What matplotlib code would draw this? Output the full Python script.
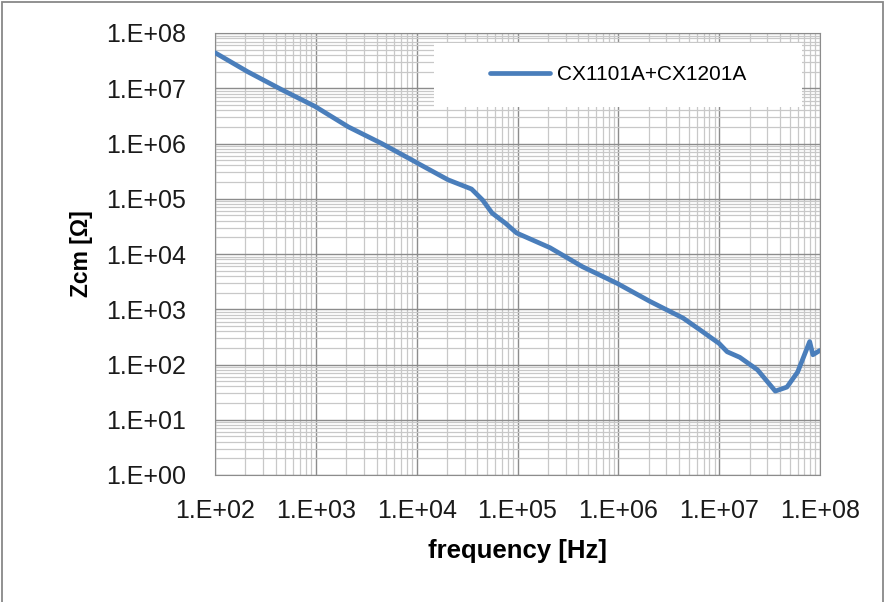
#!/usr/bin/env python3
"""
Common-mode impedance vs frequency (log-log), Excel style chart
"""

import numpy as np
import matplotlib
matplotlib.use("Agg")
import matplotlib.pyplot as plt
from matplotlib.ticker import LogLocator, FuncFormatter, NullFormatter
from matplotlib.patches import Rectangle

# Data
freq_hz = [1.0e2, 2.1e2, 4.6e2, 9.8e2, 2.1e3, 4.5e3, 9.6e3, 1.07e4, 2.05e4, 3.5e4,
           4.5e4, 5.6e4, 7.6e4, 9.8e4, 2.1e5, 4.4e5, 9.7e5, 2.07e6, 4.4e6, 6.5e6,
           1.0e7, 1.2e7, 1.6e7, 2.4e7, 3.6e7, 4.7e7, 6.0e7, 7.9e7, 8.5e7, 1.0e8]
zcm_ohm = [4.4e7, 2.0e7, 9.4e6, 4.7e6, 2.0e6, 1.0e6, 4.7e5, 4.2e5, 2.2e5, 1.5e5,
           9.5e4, 5.5e4, 3.6e4, 2.4e4, 1.3e4, 5.9e3, 2.95e3, 1.38e3, 6.9e2, 4.2e2,
           2.4e2, 1.7e2, 1.35e2, 8.0e1, 3.3e1, 3.9e1, 7.3e1, 2.6e2, 1.5e2, 1.8e2]
series_name = "CX1101A+CX1201A"
x_label = "frequency [Hz]"
y_label = "Zcm [\u03a9]"

plt.rcParams['font.family'] = ['Liberation Sans', 'DejaVu Sans']

W, H = 885, 602
fig = plt.figure(figsize=(W / 100, H / 100), dpi=100)
ax = fig.add_axes([215 / W, 1 - 475 / H, (820 - 215) / W, (475 - 33) / H])

# outer chart border (bottom edge is cut off in the reference)
fig.patches.append(Rectangle((1.5 / W, -0.05), 1 - 3.5 / W, 1.05 - 2 / H,
                             transform=fig.transFigure, fill=False,
                             edgecolor='#888888', linewidth=1.3))

ax.plot(freq_hz, zcm_ohm, color='#4A7EBB', linewidth=3.4, solid_capstyle='round',
        solid_joinstyle='round', label=series_name, zorder=3)

ax.set_xscale('log')
ax.set_yscale('log')
ax.set_xlim(1e2, 1e8)
ax.set_ylim(1e0, 1e8)

ax.xaxis.set_major_locator(LogLocator(base=10, numticks=20))
ax.yaxis.set_major_locator(LogLocator(base=10, numticks=20))
ax.xaxis.set_minor_locator(LogLocator(base=10, subs=np.arange(2, 10), numticks=20))
ax.yaxis.set_minor_locator(LogLocator(base=10, subs=np.arange(2, 10), numticks=20))
fmt = FuncFormatter(lambda v, p: "1.E+%02d" % int(round(np.log10(v))))
ax.xaxis.set_major_formatter(fmt)
ax.yaxis.set_major_formatter(fmt)
ax.xaxis.set_minor_formatter(NullFormatter())
ax.yaxis.set_minor_formatter(NullFormatter())

ax.grid(which='major', color='#8c8c8c', linewidth=1.0)
ax.grid(which='minor', color='#c8c8c8', linewidth=0.9)
ax.set_axisbelow(True)
ax.tick_params(which='both', length=0, labelsize=18, colors='#1a1a1a')
ax.tick_params(axis='x', pad=17)
ax.tick_params(axis='y', pad=21)
for s in ax.spines.values():
    s.set_color('#8c8c8c')

ax.set_xlabel(x_label, fontsize=18.5, fontweight='bold', labelpad=12)
ax.set_ylabel(y_label, fontsize=16.5, fontweight='bold', labelpad=9)

# white legend box covering the grid (pixel edges of the box)
bx0, bx1, by0, by1 = 434, 802, 43, 107
ax.add_patch(Rectangle(((bx0 - 215) / 605, (475 - by1) / 442),
                       (bx1 - bx0) / 605, (by1 - by0) / 442,
                       transform=ax.transAxes, facecolor='white',
                       edgecolor='none', zorder=4))
leg_center = (((bx0 + bx1) / 2 - 215) / 605, (475 - (by0 + by1) / 2) / 442)
leg = ax.legend(loc='center', bbox_to_anchor=leg_center,
                fontsize=15, frameon=False, handlelength=2.9, handletextpad=0.3)
leg.set_zorder(5)

fig.savefig("out.png", dpi=100, facecolor='white')
